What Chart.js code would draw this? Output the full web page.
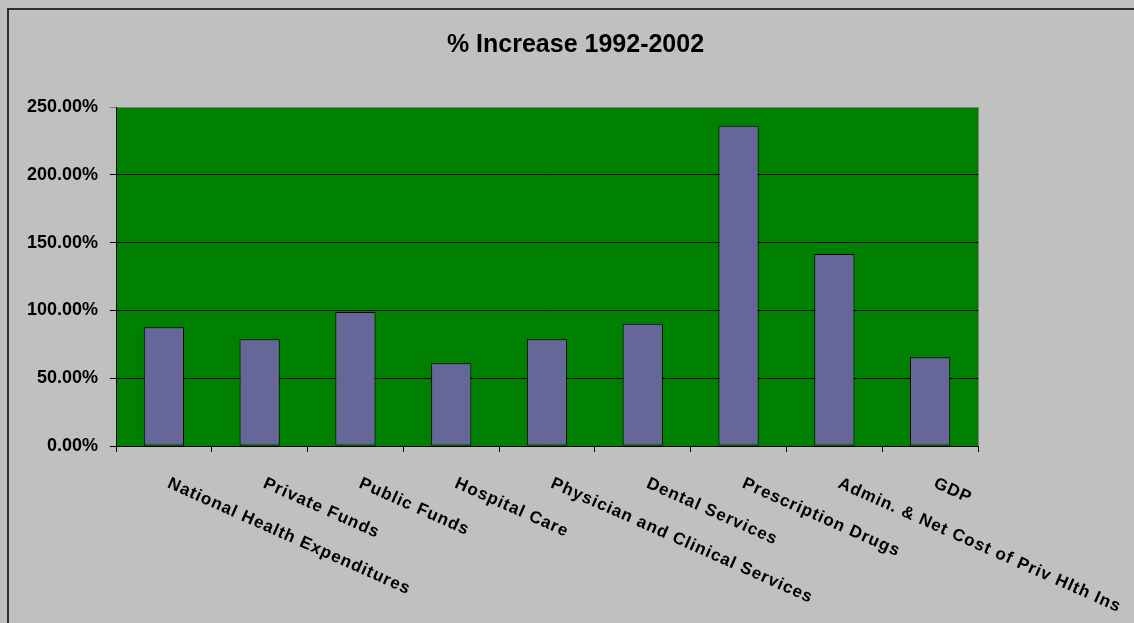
<!DOCTYPE html>
<html>
<head>
<meta charset="utf-8">
<script src="https://cdn.jsdelivr.net/npm/chart.js@4/dist/chart.umd.min.js"></script>
<style>
  html, body { margin: 0; padding: 0; background: #c0c0c0; overflow: hidden; }
  #frame {
    position: absolute; left: 7px; top: 8px;
    width: 1140px; height: 630px;
    border-left: 2px solid #303030; border-top: 2px solid #303030;
  }
  #wrap { position: absolute; left: 0; top: 0; width: 1133px; height: 613px; }
</style>
</head>
<body>
<div id="frame"><div id="wrap"><canvas id="myChart"></canvas></div></div>
<script>
// データ
const categories = [
  "National Health Expenditures", "Private Funds", "Public Funds", "Hospital Care",
  "Physician and Clinical Services", "Dental Services", "Prescription Drugs",
  "Admin. & Net Cost of Priv Hlth Ins", "GDP"
];
const increase = [87.5, 78.7, 98.8, 61.0, 78.7, 90.2, 236.2, 141.6, 65.4];
const yMax = 250;
const yStep = 50;

Chart.defaults.font.family = "'Liberation Sans', Arial, sans-serif";
Chart.defaults.color = "#000";

// 緑の背景と灰色の枠
const plotBg = {
  id: "plotBg",
  beforeDraw(chart) {
    const { ctx, chartArea: a } = chart;
    ctx.save();
    ctx.fillStyle = "#008000";
    ctx.fillRect(a.left, a.top, a.right - a.left, a.bottom - a.top);
    ctx.strokeStyle = "#808080";
    ctx.lineWidth = 1;
    ctx.beginPath();
    ctx.moveTo(a.right + 0.5, a.top);
    ctx.lineTo(a.right + 0.5, a.bottom);
    ctx.stroke();
    ctx.restore();
  }
};

// 斜めのカテゴリ名（右下がり）
const slantLabels = {
  id: "slantLabels",
  afterDraw(chart) {
    const { ctx } = chart;
    const x = chart.scales.x;
    ctx.save();
    ctx.font = "bold 17px 'Liberation Sans', Arial, sans-serif";
    ctx.fillStyle = "#000";
    ctx.textAlign = "left";
    ctx.textBaseline = "top";
    if ("letterSpacing" in ctx) ctx.letterSpacing = "1px";
    chart.data.labels.forEach((lab, i) => {
      const px = x.getPixelForValue(i);
      ctx.save();
      ctx.translate(px + 8, x.top + 29);
      ctx.rotate(24 * Math.PI / 180);
      ctx.fillText(lab, 0, 0);
      ctx.restore();
    });
    ctx.restore();
  }
};

const config = {
  type: "bar",
  data: {
    labels: categories,
    datasets: [{
      data: increase,
      backgroundColor: "#666699",
      borderColor: "#000",
      borderWidth: 1,
      borderSkipped: false,
      barPercentage: 0.42,
      categoryPercentage: 1
    }]
  },
  options: {
    responsive: true,
    maintainAspectRatio: false,
    animation: false,
    layout: { padding: 0 },
    plugins: {
      legend: { display: false },
      tooltip: { enabled: false },
      title: {
        display: true,
        text: "% Increase 1992-2002",
        color: "#000",
        font: { size: 25, weight: "bold" },
        padding: { top: 20, bottom: 47 }
      }
    },
    scales: {
      x: {
        afterFit(s) { s.height = 177; },
        grid: {
          display: true, offset: true, drawOnChartArea: false,
          drawTicks: true, tickLength: 6, color: "#000"
        },
        border: { color: "#000", width: 1 },
        ticks: { display: false }
      },
      y: {
        min: 0,
        max: yMax,
        afterFit(s) { s.width = 107; },
        grid: {
          color: c => (c.tick && c.tick.value === yMax) ? "#808080" : "#000",
          tickLength: 6
        },
        border: { color: "#000", width: 1 },
        ticks: {
          stepSize: yStep,
          padding: 12,
          font: { size: 18, weight: "bold" },
          color: "#000",
          callback: v => v.toFixed(2) + "%"
        }
      },
      // 右側の余白用（表示なし）
      yPad: {
        position: "right",
        afterFit(s) { s.width = 164; },
        grid: { display: false, drawTicks: false },
        border: { display: false },
        ticks: { display: false }
      }
    }
  },
  plugins: [plotBg, slantLabels]
};

const ctx = document.getElementById("myChart");
const myChart = new Chart(ctx, config);
</script>
</body>
</html>
